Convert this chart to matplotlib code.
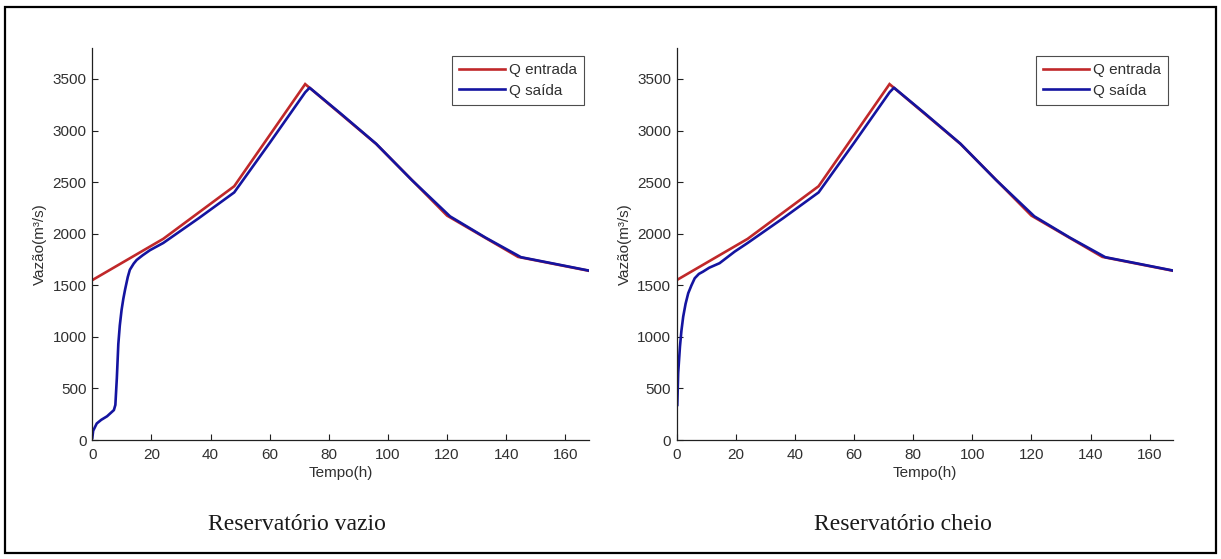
import matplotlib
matplotlib.use("Agg")
import matplotlib.pyplot as plt
from matplotlib.patches import Rectangle

# ---- data ----
t_in = [0, 24, 48, 72, 96, 120, 144, 168]
q_in = [1550, 1950, 2460, 3450, 2870, 2175, 1775, 1640]

t_out_vazio = [0, 0.3, 1.5, 3, 5, 7.3, 7.8, 8.3, 8.8, 9.3, 9.9, 10.5, 11.1, 12, 12.7,
               14, 15, 17, 19.5, 24, 36, 48, 60, 72, 73.5, 84, 96, 108, 121, 133,
               145, 156, 168]
q_out_vazio = [20, 90, 160, 195, 230, 290, 340, 600, 930, 1110, 1260, 1370, 1460, 1580, 1650,
               1710, 1745, 1790, 1840, 1910, 2150, 2400, 2880, 3370, 3415, 3165, 2872, 2522, 2168, 1962,
               1772, 1710, 1642]

t_out_cheio = [0.2, 0.5, 1.1, 1.6, 2.2, 3, 3.9, 5, 6.1, 7.5, 8.9, 11, 14.5, 19.6,
               24, 36, 48, 60, 72, 73.5, 84, 96, 108, 121, 133, 145, 156, 168]
q_out_cheio = [340, 650, 905, 1060, 1196, 1320, 1423, 1500, 1568, 1610, 1632, 1670, 1714, 1826,
               1910, 2150, 2400, 2880, 3370, 3415, 3165, 2872, 2522, 2168, 1962, 1772, 1710, 1642]

x_ticks = [0, 20, 40, 60, 80, 100, 120, 140, 160]
y_ticks = [0, 500, 1000, 1500, 2000, 2500, 3000, 3500]
labels = ["Q entrada", "Q saída"]
captions = ["Reservatório vazio", "Reservatório cheio"]

# ---- style ----
plt.rcParams['font.family'] = ['Liberation Sans', 'DejaVu Sans']
RED = '#c0282a'
BLUE = '#1414a0'
TXT = '#303030'

W, H = 1221, 559
fig = plt.figure(figsize=(W / 100, H / 100), dpi=100)
fig.patch.set_facecolor('white')

ax_px = [(92.3, 589.0), (676.7, 1173.3)]
y_bot, y_top = 440, 48

series = [(t_out_vazio, q_out_vazio), (t_out_cheio, q_out_cheio)]
for i, ((x0, x1), (to, qo)) in enumerate(zip(ax_px, series)):
    ax = fig.add_axes([x0 / W, (H - y_bot) / H, (x1 - x0) / W, (y_bot - y_top) / H])
    ax.plot(t_in, q_in, color=RED, lw=1.9, label=labels[0], solid_joinstyle='miter')
    ax.plot(to, qo, color=BLUE, lw=1.9, label=labels[1])
    ax.set_xlim(0, 168)
    ax.set_ylim(0, 3800)
    ax.set_xticks(x_ticks)
    ax.set_yticks(y_ticks)
    for s in ['top', 'right']:
        ax.spines[s].set_visible(False)
    for s in ['left', 'bottom']:
        ax.spines[s].set_color('#202020')
        ax.spines[s].set_linewidth(0.9)
    ax.tick_params(direction='in', length=4, width=0.8, color='#202020',
                   labelsize=11, labelcolor=TXT, pad=4)
    ax.tick_params(axis='x', pad=5.5)
    ax.set_xlabel("Tempo(h)", fontsize=11, color=TXT, labelpad=3)
    ax.set_ylabel("Vazão(m³/s)", fontsize=11, color=TXT, labelpad=4)
    bx = (x1 - 5 - x0) / (x1 - x0)
    by = (y_bot - 56) / (y_bot - y_top)
    leg = ax.legend(loc='upper right', bbox_to_anchor=(bx, by), borderaxespad=0,
                    fontsize=11, frameon=True, fancybox=False, edgecolor='#202020',
                    handlelength=3.0, handletextpad=0.3, labelspacing=0.45,
                    borderpad=0.45)
    leg.get_frame().set_linewidth(0.8)
    for txt in leg.get_texts():
        txt.set_color(TXT)

cap_x = [297, 903]
for cx, c in zip(cap_x, captions):
    fig.text(cx / W, (H - 524) / H, c, ha='center', va='center', fontsize=17,
             family=['Liberation Serif', 'DejaVu Serif'], color='#1a1a1a')

fig.patches.append(Rectangle((5 / W, (H - 553) / H), (1216 - 5) / W, (553 - 7) / H,
                             transform=fig.transFigure, fill=False, edgecolor='black',
                             linewidth=1.6))

fig.savefig("out.png", dpi=100, facecolor='white')
